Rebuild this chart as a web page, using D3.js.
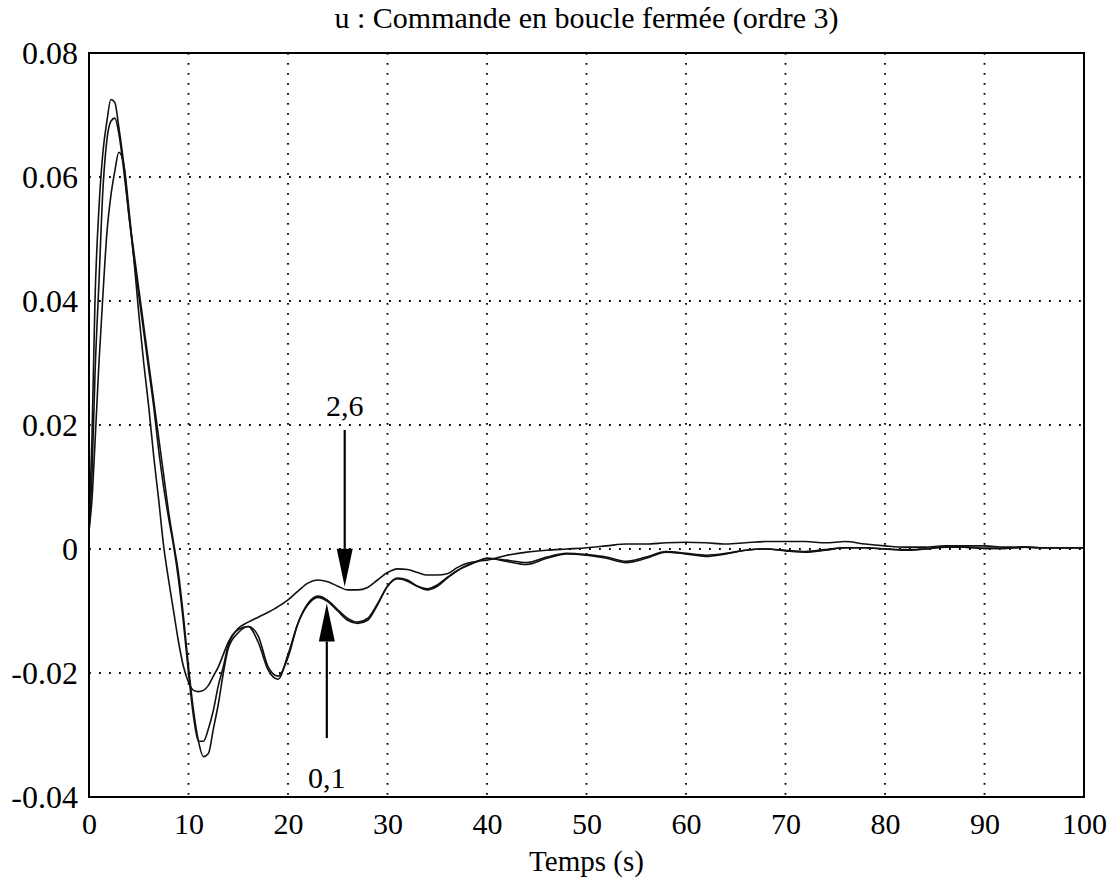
<!DOCTYPE html>
<html>
<head>
<meta charset="utf-8">
<script src="https://cdn.jsdelivr.net/npm/d3@7"></script>
<style>
  body { margin: 0; background: #fff; }
  svg { display: block; }
  .axis text { font-family: "Liberation Serif", "Times New Roman", serif; font-size: 30px; fill: #000; }
  .y-axis text { font-size: 32px; }
  .axis path, .axis line { display: none; }
  .label { font-family: "Liberation Serif", "Times New Roman", serif; fill: #000; }
  .grid line { stroke: #000; stroke-width: 1.8; stroke-dasharray: 1.8, 8.2; }
  .curve { fill: none; stroke: #111; stroke-width: 1.6; }
</style>
</head>
<body>
<div class="chart"></div>
<script>
// tick values / labels
const xTicks = [0, 10, 20, 30, 40, 50, 60, 70, 80, 90, 100];
const yTicks = [0.08, 0.06, 0.04, 0.02, 0, -0.02, -0.04];
const yTickLabels = ["0.08", "0.06", "0.04", "0.02", "0", "-0.02", "-0.04"];

// time samples (s)
const time = [0, 0.3, 0.6, 1, 1.4, 1.8, 2.2, 2.6, 3, 3.5, 4, 4.5, 5, 5.5, 6, 6.5, 7, 7.5, 8, 8.5,
  9, 9.5, 10, 10.5, 11, 11.5, 12, 12.5, 13, 13.5, 14, 15, 16, 17, 18, 19, 20, 21, 22, 23,
  24, 25, 26, 27, 28, 29, 30, 31, 32, 33, 34, 35, 36, 37, 38, 39, 40, 42, 44, 46,
  48, 50, 52, 54, 56, 58, 60, 62, 64, 66, 68, 70, 72, 74, 76, 78, 80, 82, 84, 86,
  88, 90, 92, 94, 96, 98, 100];

// u, highest peak
const uA = [0.003, 0.018, 0.040, 0.055, 0.064, 0.069, 0.0725, 0.072, 0.068, 0.062, 0.054, 0.048, 0.042, 0.036, 0.030, 0.024, 0.018, 0.012, 0.006, 0.001,
  -0.004, -0.011, -0.019, -0.026, -0.031, -0.0335, -0.033, -0.029, -0.025, -0.020, -0.016, -0.0135, -0.0125, -0.015, -0.0195, -0.021, -0.017, -0.012, -0.009, -0.0078,
  -0.0085, -0.010, -0.0115, -0.012, -0.0115, -0.009, -0.006, -0.0047, -0.005, -0.006, -0.0066, -0.006, -0.0047, -0.0035, -0.0027, -0.002, -0.0015, -0.002, -0.0025, -0.0015,
  -0.0008, -0.001, -0.0015, -0.0022, -0.0015, -0.0005, -0.0008, -0.0012, -0.0008, -0.0002, 0, -0.0003, -0.0005, -0.0002, 0.0002, 0.0002, 0, -0.0002, 0, 0.0003,
  0.0003, 0.0001, 0.0001, 0.0003, 0.0002, 0.0002, 0.0002];

// u, middle peak
const uB = [0.003, 0.012, 0.028, 0.043, 0.058, 0.066, 0.069, 0.0695, 0.067, 0.061, 0.054, 0.047, 0.041, 0.035, 0.029, 0.023, 0.016, 0.010, 0.005, 0.0005,
  -0.005, -0.012, -0.020, -0.027, -0.031, -0.031, -0.029, -0.026, -0.022, -0.019, -0.0155, -0.013, -0.0125, -0.014, -0.019, -0.0205, -0.0175, -0.012, -0.0088, -0.0076,
  -0.0083, -0.0098, -0.0112, -0.0118, -0.0112, -0.0088, -0.006, -0.0048, -0.0052, -0.006, -0.0064, -0.0058, -0.0046, -0.0035, -0.0026, -0.002, -0.0015, -0.0018, -0.0022, -0.0013,
  -0.0007, -0.0009, -0.0013, -0.002, -0.0013, -0.0004, -0.0007, -0.001, -0.0007, -0.0002, 0, -0.0002, -0.0004, -0.0001, 0.0002, 0.0002, 0, -0.0001, 0, 0.0003,
  0.0003, 0.0001, 0.0001, 0.0003, 0.0002, 0.0002, 0.0002];

// u, lowest peak (2,6)
const uC = [0.003, 0.008, 0.017, 0.030, 0.041, 0.051, 0.057, 0.061, 0.064, 0.062, 0.055, 0.047, 0.038, 0.030, 0.023, 0.015, 0.008, 0.0005, -0.005, -0.010,
  -0.015, -0.019, -0.0215, -0.0228, -0.023, -0.0228, -0.022, -0.0205, -0.019, -0.017, -0.015, -0.0128, -0.0118, -0.011, -0.0102, -0.0093, -0.0082, -0.0068, -0.0055, -0.005,
  -0.0053, -0.006, -0.0066, -0.0066, -0.0062, -0.005, -0.0038, -0.0032, -0.0033, -0.0038, -0.0042, -0.0042, -0.004, -0.003, -0.0023, -0.002, -0.0018, -0.001, -0.0005, -0.0002,
  0, 0.0002, 0.0005, 0.0008, 0.0008, 0.001, 0.0011, 0.001, 0.0008, 0.001, 0.0012, 0.0012, 0.0012, 0.001, 0.0012, 0.0008, 0.0005, 0.0003, 0.0003, 0.0005,
  0.0005, 0.0005, 0.0003, 0.0003, 0.0002, 0.0002, 0.0002];

const series = [uA, uB, uC];

// annotations: label, arrow tip (t, u), arrow tail u, label baseline u
const notes = [
  { text: "2,6", t: 25.7, tip: -0.0061, tail: 0.0192, labelU: 0.0215, dir: "down" },
  { text: "0,1", t: 23.9, tip: -0.0088, tail: -0.0305, labelU: -0.0385, dir: "up" }
];

const margin = ({top: 53, right: 31, bottom: 86, left: 89});
const width = 1115 - margin.left - margin.right,
      height = 883 - margin.top - margin.bottom;

const xScale = d3.scaleLinear().domain([0, 100]).range([0, width]);
const yScale = d3.scaleLinear().domain([-0.04, 0.08]).range([height, 0]);

const root = d3.select(".chart").append("svg")
    .attr("width", width + margin.left + margin.right)
    .attr("height", height + margin.top + margin.bottom);

const svg = root.append("g")
    .attr("transform", "translate(" + margin.left + "," + margin.top + ")");

// grid
svg.append("g").attr("class", "grid")
  .selectAll("line.v")
  .data(xTicks.slice(1, -1))
  .enter().append("line")
    .attr("x1", d => xScale(d)).attr("x2", d => xScale(d))
    .attr("y1", 0).attr("y2", height);

svg.append("g").attr("class", "grid")
  .selectAll("line.h")
  .data(yTicks.slice(1, -1))
  .enter().append("line")
    .attr("y1", d => yScale(d)).attr("y2", d => yScale(d))
    .attr("x1", 0).attr("x2", width);

// curves
const line = d3.line()
    .x((d, i) => xScale(time[i]))
    .y(d => yScale(d))
    .curve(d3.curveMonotoneX);

svg.selectAll("path.curve")
  .data(series)
  .enter().append("path")
    .attr("class", "curve")
    .attr("d", d => line(d));

// frame
svg.append("rect")
    .attr("x", 0).attr("y", 0)
    .attr("width", width).attr("height", height)
    .attr("fill", "none").attr("stroke", "#000").attr("stroke-width", 2);

// axes
const xAxis = d3.axisBottom(xScale).tickValues(xTicks).tickSize(0).tickPadding(16);
svg.append("g")
    .attr("class", "axis x-axis")
    .attr("transform", "translate(0," + height + ")")
    .call(xAxis);

const yAxis = d3.axisLeft(yScale).tickValues(yTicks).tickSize(0).tickPadding(11)
    .tickFormat((d, i) => yTickLabels[i]);
svg.append("g")
    .attr("class", "axis y-axis")
    .call(yAxis);

// title & axis label
root.append("text")
    .attr("class", "label")
    .attr("x", margin.left + width / 2)
    .attr("y", 28)
    .attr("text-anchor", "middle")
    .style("font-size", "30px")
    .text("u : Commande en boucle fermée (ordre 3)");

root.append("text")
    .attr("class", "label")
    .attr("x", margin.left + width / 2)
    .attr("y", 871)
    .attr("text-anchor", "middle")
    .style("font-size", "29px")
    .text("Temps (s)");

// arrows
const head = 38, halfW = 8;
notes.forEach(n => {
  const x = xScale(n.t), yTip = yScale(n.tip), yTail = yScale(n.tail);
  const s = n.dir === "down" ? -1 : 1;
  svg.append("line")
      .attr("x1", x).attr("x2", x)
      .attr("y1", yTail).attr("y2", yTip + s * head)
      .attr("stroke", "#000").attr("stroke-width", 2.2);
  svg.append("path")
      .attr("d", `M${x},${yTip} L${x - halfW},${yTip + s * head} L${x + halfW},${yTip + s * head} Z`)
      .attr("fill", "#000");
  svg.append("text")
      .attr("class", "label")
      .attr("x", x)
      .attr("y", yScale(n.labelU))
      .attr("text-anchor", "middle")
      .style("font-size", "30px")
      .text(n.text);
});
</script>
</body>
</html>
